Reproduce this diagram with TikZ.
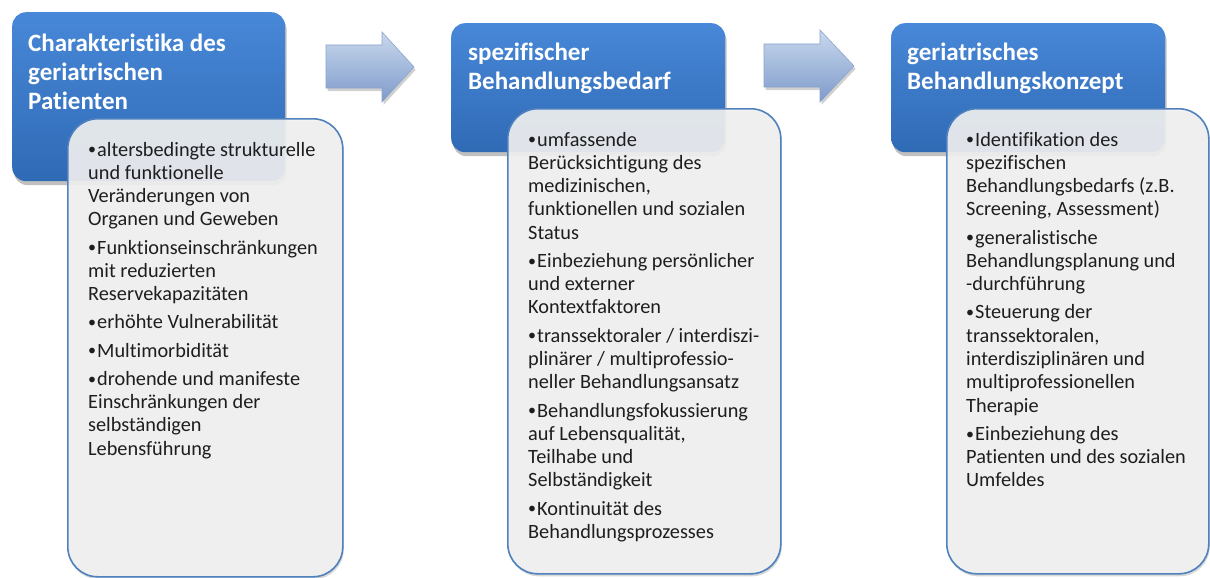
\documentclass[tikz,border=0pt]{standalone}
\usepackage{fontspec}
\setmainfont{Carlito}[Ligatures=NoCommon]
\usetikzlibrary{shadows}
\definecolor{headtop}{HTML}{4888D8}
\definecolor{headbot}{HTML}{2F6AB5}
\definecolor{bodyfill}{HTML}{F2F2F2}
\definecolor{bodyline}{HTML}{4F81BD}
\definecolor{txtc}{HTML}{1E1E1E}
\definecolor{arrtop}{HTML}{C9D8EC}
\definecolor{arrmid}{HTML}{A3BADC}
\definecolor{arrbot}{HTML}{7F9ACA}
\definecolor{arrline}{HTML}{8CA4CC}
\newcommand{\bitem}[1]{\par\hangindent=9pt\hangafter=1\noindent\makebox[9pt][l]{\raisebox{1.2pt}{\fontsize{16}{16}\selectfont•}}#1\par\vspace{4.9pt}}
\newcommand{\tbox}[1]{\vtop{\hsize=320pt\raggedright\parindent=0pt\noindent #1}}
\tikzset{
  headbox/.style={rounded corners=14pt, top color=headtop, bottom color=headbot, draw=none,
    anchor=north west, inner sep=0,
    drop shadow={shadow xshift=1.5pt, shadow yshift=-4pt, opacity=0.35, fill=black!70}},
  bodybox/.style={rounded corners=30pt, fill=bodyfill, fill opacity=0.9, draw=bodyline,
    line width=1.6pt, anchor=north west, inner sep=0,
    drop shadow={shadow xshift=1pt, shadow yshift=-2.5pt, opacity=0.25, fill=black!60}},
  ttl/.style={anchor=base west, inner sep=0, text=white,
    font=\fontsize{25}{29}\selectfont\bfseries},
  txt/.style={anchor=base west, inner sep=0, text=txtc,
    font=\fontsize{20.3}{23.3}\selectfont},
  blockarrow/.style={top color=arrtop, bottom color=arrbot, middle color=arrmid,
    draw=arrline, line width=0.6pt, line join=miter,
    drop shadow={shadow xshift=1.5pt, shadow yshift=-3pt, opacity=0.3, fill=black!60}}
}
\begin{document}
\begin{tikzpicture}[x=1pt,y=-1pt]
\useasboundingbox[fill=white] (0,0) rectangle (1210,578);

% block arrows
\path[blockarrow] (326,45) -- (382,45) -- (382,32) -- (414,67) -- (382,102) -- (382,88) -- (326,88) -- cycle;
\path[blockarrow] (764,44) -- (820,44) -- (820,30) -- (854,66) -- (820,102) -- (820,87) -- (764,87) -- cycle;

% column 1
\node[headbox, minimum width=273pt, minimum height=169pt] (h1) at (12,12) {};
\node[ttl] (t1) at (28,52) {\tbox{Charakteristika des\\geriatrischen\\Patienten}};
\node[bodybox, minimum width=275pt, minimum height=458pt] (b1) at (67,118) {};
\node[txt] (l1) at (88,156) {\tbox{%
\bitem{altersbedingte strukturelle\\und funktionelle\\Veränderungen von\\Organen und Geweben}
\bitem{Funktionseinschränkungen\\mit reduzierten\\Reservekapazitäten}
\bitem{erhöhte Vulnerabilität}
\bitem{Multimorbidität}
\bitem{drohende und manifeste\\Einschränkungen der\\selbständigen\\Lebensführung}}};

% column 2
\node[headbox, minimum width=274pt, minimum height=129pt] (h2) at (451,23) {};
\node[ttl] (t2) at (468,60) {\tbox{spezifischer\\Behandlungsbedarf}};
\node[bodybox, minimum width=273pt, minimum height=465pt] (b2) at (507,108) {};
\node[txt] (l2) at (528,146) {\tbox{%
\bitem{umfassende\\Berücksichtigung des\\medizinischen,\\funktionellen und sozialen\\Status}
\bitem{Einbeziehung persönlicher\\und externer\\Kontextfaktoren}
\bitem{transsektoraler / interdiszi-\\plinärer / multiprofessio-\\neller Behandlungsansatz}
\bitem{Behandlungsfokussierung\\auf Lebensqualität,\\Teilhabe und\\Selbständigkeit}
\bitem{Kontinuität des\\Behandlungsprozesses}}};

% column 3
\node[headbox, minimum width=274pt, minimum height=129pt] (h3) at (891,23) {};
\node[ttl] (t3) at (907,60) {\tbox{geriatrisches\\Behandlungskonzept}};
\node[bodybox, minimum width=262pt, minimum height=465pt] (b3) at (946,108) {};
\node[txt] (l3) at (966,146) {\tbox{%
\bitem{Identifikation des\\spezifischen\\Behandlungsbedarfs (z.B.\\Screening, Assessment)}
\bitem{generalistische\\Behandlungsplanung und\\-durchführung}
\bitem{Steuerung der\\transsektoralen,\\interdisziplinären und\\multiprofessionellen\\Therapie}
\bitem{Einbeziehung des\\Patienten und des sozialen\\Umfeldes}}};
\end{tikzpicture}
\end{document}
